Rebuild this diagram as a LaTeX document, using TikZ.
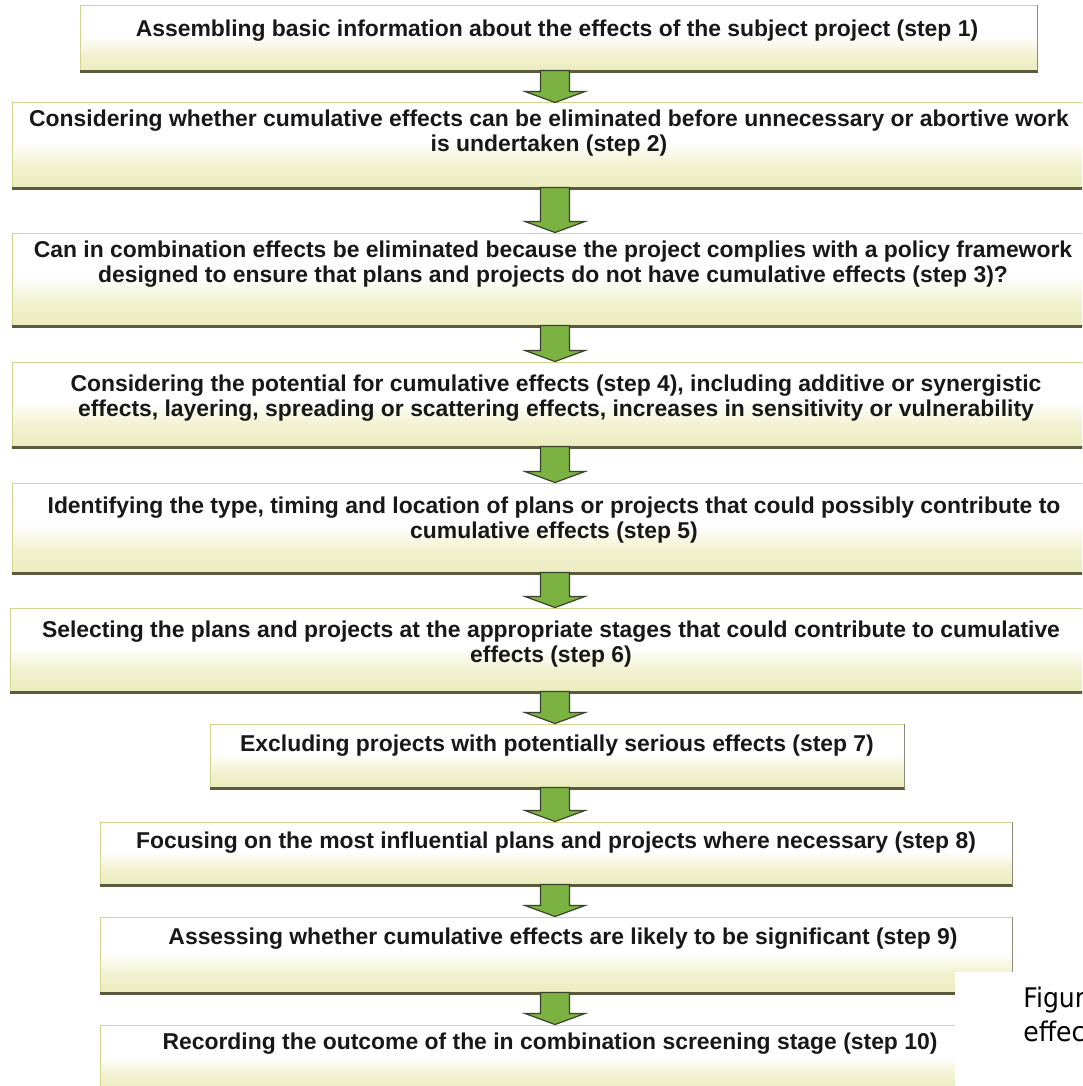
\documentclass[tikz,border=0pt]{standalone}
\usepackage{fontspec}
\setmainfont{Liberation Sans}
\newfontfamily\capfont[FakeStretch=0.93]{DejaVu Sans}
\usetikzlibrary{calc}
\definecolor{boxbot}{RGB}{236,236,190}
\definecolor{boxedge}{RGB}{208,212,140}
\definecolor{shadowc}{RGB}{92,90,62}
\definecolor{arrowfill}{RGB}{124,178,66}
\definecolor{arrowedge}{RGB}{58,66,44}
\definecolor{txt}{RGB}{24,24,24}
\pgfdeclareverticalshading{boxshade}{100bp}{color(0bp)=(boxbot); color(25bp)=(boxbot); color(38bp)=(boxbot!70!white); color(52bp)=(white); color(100bp)=(white)}
\tikzset{
  boxnode/.style={rectangle, draw=boxedge, line width=0.5pt, shading=boxshade, inner sep=0pt},
  shadowbottom/.style={draw=shadowc, line width=1.1pt},
  shadowright/.style={draw=shadowc!70!white, line width=0.6pt},
  steptext/.style={font=\bfseries\fontsize{11.45}{12.6}\selectfont, text=txt, align=center, inner sep=0pt},
  blockarrow/.style={fill=arrowfill, draw=arrowedge, line width=0.6pt, line join=miter},
  captext/.style={font=\capfont\fontsize{13.5}{16}\selectfont, text=black, anchor=base west, inner sep=0pt}
}
% #1 name, #2 x1, #3 y1, #4 x2, #5 y2, #6 text x, #7 text y, #8 text
\newcommand\flowbox[8]{%
  \pgfmathsetmacro\bw{(#4-#2)*0.5}%
  \pgfmathsetmacro\bh{(#5-#3)*0.5}%
  \node[boxnode, minimum width=\bw pt, minimum height=\bh pt] (#1) at ({(#2+#4)/2},{(#3+#5)/2}) {};%
  \draw[shadowbottom] (#1.south west) -- (#1.south east);%
  \draw[shadowright] (#1.north east) -- (#1.south east);%
  \node[steptext] (#1t) at (#6,#7) {#8};%
}
\begin{document}
\begin{tikzpicture}[x=0.5pt, y=-0.5pt]
\useasboundingbox (0,0) rectangle (1082,1086);
\clip (0,0) rectangle (1082,1086);
\fill[white] (0,0) rectangle (1082,1086);

\flowbox{s1}{80}{6}{1037}{71}{557}{31}{Assembling basic information about the effects of the subject project (step 1)}
\flowbox{s2}{12}{103}{1095}{188}{549}{133}{Considering whether cumulative effects can be eliminated before unnecessary or abortive work\\is undertaken (step 2)}
\flowbox{s3}{12}{233}{1095}{326}{553}{264}{Can in combination effects be eliminated because the project complies with a policy framework\\designed to ensure that plans and projects do not have cumulative effects (step 3)?}
\flowbox{s4}{12}{362}{1095}{447}{556}{398}{Considering the potential for cumulative effects (step 4), including additive or synergistic\\effects, layering, spreading or scattering effects, increases in sensitivity or vulnerability}
\flowbox{s5}{12}{483}{1095}{573}{554}{520}{Identifying the type, timing and location of plans or projects that could possibly contribute to\\cumulative effects (step 5)}
\flowbox{s6}{10}{608}{1095}{692}{551}{644}{Selecting the plans and projects at the appropriate stages that could contribute to cumulative\\effects (step 6)}
\flowbox{s7}{210}{724}{904}{788}{557}{746}{Excluding projects with potentially serious effects (step 7)}
\flowbox{s8}{100}{822}{1012}{885}{556}{843}{Focusing on the most influential plans and projects where necessary (step 8)}
\flowbox{s9}{100}{917}{1012}{993}{563}{939}{Assessing whether cumulative effects are likely to be significant (step 9)}
\flowbox{s10}{100}{1025}{1006}{1092}{550}{1044}{Recording the outcome of the in combination screening stage (step 10)}

\def\ax{277.5pt}
\foreach \a/\b in {s1/s2,s2/s3,s3/s4,s4/s5,s5/s6,s6/s7,s7/s8,s8/s9,s9/s10}{
  \draw[blockarrow] let \p1=(\a.south), \p2=(\b.north) in
    ({\ax-7.25pt},{\y1+0.5pt}) -- ({\ax+7.25pt},{\y1+0.5pt}) -- ({\ax+7.25pt},{\y2+5.5pt})
    -- ({\ax+15pt},{\y2+5.5pt}) -- (\ax,\y2) -- ({\ax-15pt},{\y2+5.5pt})
    -- ({\ax-7.25pt},{\y2+5.5pt}) -- cycle;
}

\fill[white] (955,972) rectangle (1090,1090);
\node[captext] (cap1) at (1023,1007) {Figure};
\node[captext] (cap2) at (1023,1041) {effects};
\end{tikzpicture}
\end{document}
